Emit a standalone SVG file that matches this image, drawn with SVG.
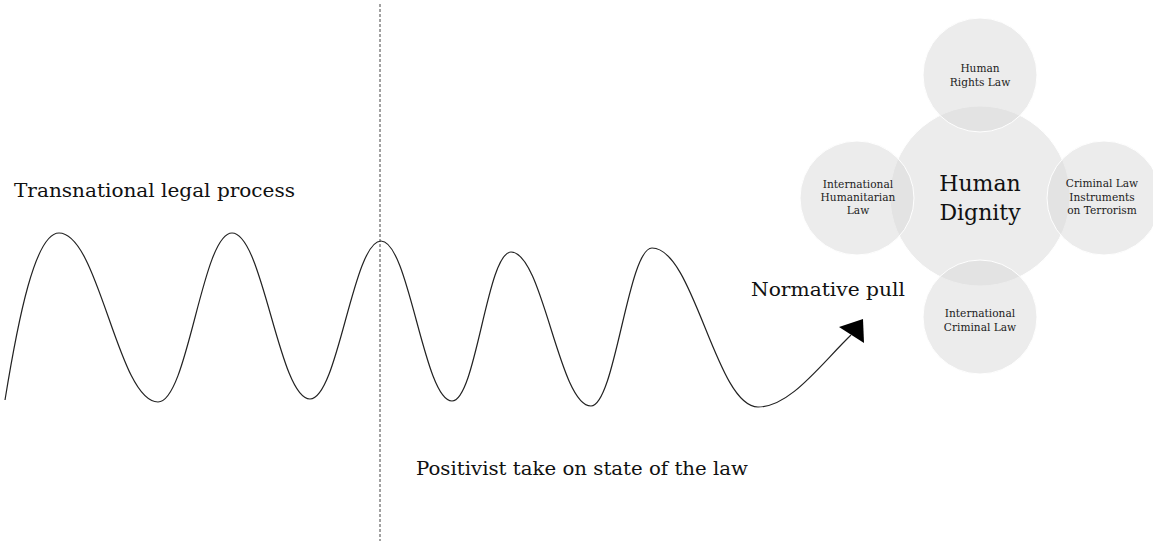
<svg xmlns="http://www.w3.org/2000/svg" width="1153" height="541" viewBox="0 0 1153 541">
<style>
.lbl{font-family:"DejaVu Serif","Liberation Serif",serif;fill:#111;}
.big{font-size:19px;}
.sm{font-family:"DejaVu Serif","Liberation Serif",serif;font-size:10.6px;fill:#222;text-anchor:middle;}
.hd{font-family:"DejaVu Serif","Liberation Serif",serif;font-size:22px;fill:#111;text-anchor:middle;}
.c{fill:#d9d9d9;fill-opacity:0.5;stroke:#fff;stroke-width:1;}
</style>
<rect width="1153" height="541" fill="#fff"/>
<g id="circles">
<g id="n-center"><circle class="c" cx="980" cy="196" r="90"/></g>
<g id="n-top"><circle class="c" cx="980" cy="75" r="57"/></g>
<g id="n-left"><circle class="c" cx="857" cy="198" r="57"/></g>
<g id="n-right"><circle class="c" cx="1104" cy="198" r="57"/></g>
<g id="n-bottom"><circle class="c" cx="980" cy="317" r="57"/></g>
</g>
<g id="texts">
<text class="hd" x="980" y="191">Human</text>
<text class="hd" x="980" y="220">Dignity</text>
<text class="sm" x="980" y="72">Human</text>
<text class="sm" x="980" y="86">Rights Law</text>
<text class="sm" x="858" y="188">International</text>
<text class="sm" x="858" y="201">Humanitarian</text>
<text class="sm" x="858" y="214">Law</text>
<text class="sm" x="1102" y="187">Criminal Law</text>
<text class="sm" x="1102" y="201">Instruments</text>
<text class="sm" x="1102" y="214">on Terrorism</text>
<text class="sm" x="980" y="317">International</text>
<text class="sm" x="980" y="331">Criminal Law</text>
<text class="lbl big" x="14" y="197" textLength="281" lengthAdjust="spacingAndGlyphs">Transnational legal process</text>
<text class="lbl big" x="751" y="296" textLength="154" lengthAdjust="spacingAndGlyphs">Normative pull</text>
<text class="lbl big" x="416" y="475" textLength="332" lengthAdjust="spacingAndGlyphs">Positivist take on state of the law</text>
</g>
<g id="connectors">
<line x1="380" y1="4" x2="380" y2="541" stroke="#444" stroke-width="1" stroke-dasharray="3,2"/>
<path fill="none" stroke="#222" stroke-width="1.2" d="M5,400 C18,320 35,233 59,233 C99,233 118,402 158,402 C188,402 202,233 232,233 C263,233 279,399 310,399 C338,399 353,241 381,241 C409,241 424,401 452,401 C476,401 487,252 511,252 C543,252 559,406 591,406 C615,406 628,248 652,248 C694,248 716,407 758,407 C790,407 820,365 851,335"/>
<polygon points="839,327 863,319 864,343" fill="#000"/>
</g>
</svg>
